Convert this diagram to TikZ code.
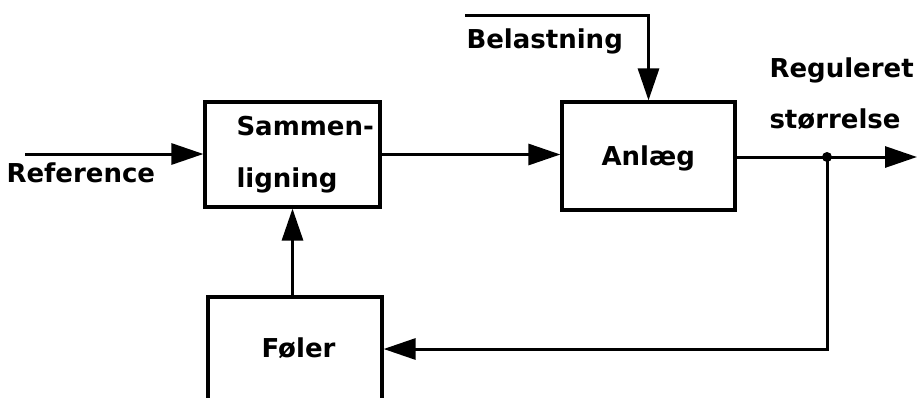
\documentclass[tikz,border=0pt]{standalone}
\usepackage{fontspec}
\setmainfont{DejaVu Sans}
\usetikzlibrary{arrows.meta}
\begin{document}
\begin{tikzpicture}[x=1pt,y=-1pt,
  line width=3pt,
  blk/.style={draw, line width=3.2pt, inner sep=0pt},
  lbl/.style={font=\bfseries\fontsize{26}{30}\selectfont, inner sep=0pt, anchor=base west},
  tip/.style={-{Triangle[length=32pt,width=21pt]}}]
\useasboundingbox (0,0) rectangle (917,397);
\clip (0,0) rectangle (917,397);
% blocks
\node[blk, minimum width=175pt, minimum height=105pt] (cmp) at (292.5,154.5) {};
\node[blk, minimum width=173pt, minimum height=108pt] (anl) at (648.5,156) {};
\node[blk, minimum width=174pt, minimum height=104pt] (fol) at (295,349) {};
% labels
\node[lbl] (t1) at (235,135) {Sammen-};
\node[lbl] (t2) at (235,187) {ligning};
\node[lbl] (t3) at (600,165) {Anlæg};
\node[lbl] (t4) at (260,357) {Føler};
\node[lbl] (t5) at (465,48) {Belastning};
\node[lbl] (t6) at (5,182) {Reference};
\node[lbl] (t7) at (768,77) {Reguleret};
\node[lbl] (t8) at (768,128) {størrelse};
% coordinates
\coordinate (ref) at (25,154);
\coordinate (bl) at (465,15);
\coordinate (j) at (827,157);
\coordinate (out) at (917,157);
% connectors
\draw[tip] (ref) -- (cmp.west |- ref);
\draw[tip] (cmp.east) -- (anl.west |- cmp.east);
\draw[tip] (bl) -| (anl.north);
\draw[tip] (anl.east |- j) -- (out);
\draw[tip] (j) |- (fol.east);
\draw[tip] (cmp.south |- fol.north) -- (cmp.south);
\fill (j) circle (5pt);
\end{tikzpicture}
\end{document}
